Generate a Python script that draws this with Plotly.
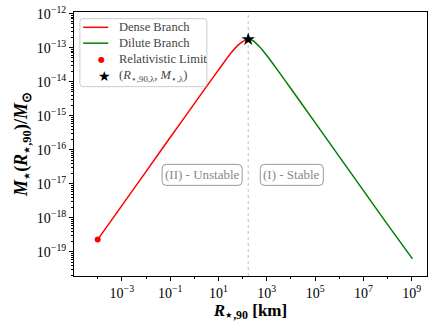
import plotly.graph_objects as go

# dense branch (red)
dense_r = [1e-4, 1e-3, 1e-2, 1e-1, 1.0, 10.0, 31.6, 63.0, 100.0, 126.0, 150.0, 170.0]
dense_m = [2.29e-19, 2.29e-18, 2.29e-17, 2.29e-16, 2.27e-15, 2.24e-14, 6.8e-14,
           1.17e-13, 1.51e-13, 1.64e-13, 1.72e-13, 1.75e-13]

# dilute branch (green)
dilute_r = [170.0, 250.0, 500.0, 1e3, 3.16e3, 1e4, 1e5, 1e6, 1e7, 1e8, 1.07e9]
dilute_m = [1.75e-13, 1.66e-13, 1.07e-13, 5.9e-14, 1.95e-14, 6.2e-15, 6.3e-16,
            6.3e-17, 6.3e-18, 6.3e-19, 6.2e-20]

# relativistic limit and turning point
rel_r = [1e-4]
rel_m = [2.29e-19]
peak_r = [170.0]
peak_m = [1.75e-13]

xtick_exp = [-3, -1, 1, 3, 5, 7, 9]
ytick_exp = [-19, -18, -17, -16, -15, -14, -13, -12]

legend_labels = ['Dense Branch', 'Dilute Branch', 'Relativistic Limit',
                 '(<i>R</i><sub>⋆,90,λ</sub>, <i>M</i><sub>⋆,λ</sub>)']

font = "Liberation Serif"


def rounded_box(w, h, r):
    a, b = w / 2, h / 2
    return (f"M {-a + r},{-b} L {a - r},{-b} Q {a},{-b} {a},{-b + r} "
            f"L {a},{b - r} Q {a},{b} {a - r},{b} L {-a + r},{b} Q {-a},{b} {-a},{b - r} "
            f"L {-a},{-b + r} Q {-a},{-b} {-a + r},{-b} Z")


fig = go.Figure()
fig.add_trace(go.Scatter(x=dense_r, y=dense_m, mode='lines', name=legend_labels[0],
                         line=dict(color='red', width=1.5, shape='spline', smoothing=0.4)))
fig.add_trace(go.Scatter(x=dilute_r, y=dilute_m, mode='lines', name=legend_labels[1],
                         line=dict(color='green', width=1.5, shape='spline', smoothing=0.4)))
fig.add_trace(go.Scatter(x=rel_r, y=rel_m, mode='markers', name=legend_labels[2],
                         marker=dict(color='red', size=6)))
fig.add_trace(go.Scatter(x=peak_r, y=peak_m, mode='markers', name=legend_labels[3],
                         marker=dict(color='black', size=10, symbol='star')))

fig.add_vline(x=peak_r[0], line=dict(color='#c0c0c0', width=1, dash='dot'), layer='below')

# region labels in rounded boxes
for txt, xp, w in [('(II) - Unstable', 0.363, 80), ('(I) - Stable', 0.617, 63)]:
    fig.add_shape(type='path', xref='paper', yref='paper', xsizemode='pixel',
                  ysizemode='pixel', xanchor=xp, yanchor=0.383, path=rounded_box(w, 21, 4),
                  line=dict(color='#999999', width=1), fillcolor='white')
    fig.add_annotation(text=txt, x=xp, y=0.383, xref='paper', yref='paper',
                       yanchor='middle', showarrow=False,
                       font=dict(family=font, size=13, color='#888888'))

# hand-made legend, matplotlib-like compact spacing
fig.add_shape(type='path', xref='paper', yref='paper', xsizemode='pixel',
              ysizemode='pixel', xanchor=0.1965, yanchor=0.846, path=rounded_box(127, 68, 3),
              line=dict(color='#cccccc', width=1), fillcolor='rgba(255,255,255,0.8)')
entry_y = [0.942, 0.882, 0.821, 0.758]
for yy, col in zip(entry_y[:2], ['red', 'green']):
    fig.add_shape(type='line', xref='paper', yref='paper', x0=0.026, x1=0.097,
                  y0=yy, y1=yy, line=dict(color=col, width=1.5))
fig.add_annotation(text='●', x=0.062, y=entry_y[2], xref='paper', yref='paper',
                   yanchor='middle', showarrow=False,
                   font=dict(family='DejaVu Sans', size=8, color='red'))
fig.add_annotation(text='★', x=0.062, y=entry_y[3], xref='paper', yref='paper',
                   yanchor='middle', showarrow=False,
                   font=dict(family='DejaVu Sans', size=14, color='black'))
for yy, lab in zip(entry_y, legend_labels):
    fig.add_annotation(text=lab, x=0.122, y=yy, xref='paper', yref='paper',
                       xanchor='left', yanchor='middle', showarrow=False,
                       font=dict(family=font, size=12.5, color='#444444'))

axis_common = dict(type='log', showline=True, linecolor='black', linewidth=1, mirror=True,
                   showgrid=False, zeroline=False, ticks='outside', ticklen=4, automargin=False,
                   ticklabeloverflow='allow',
                   tickcolor='black', tickfont=dict(family=font, size=14, color='black'))

fig.update_xaxes(**axis_common, range=[-4.98, 9.63],
                 tickvals=[10.0 ** e for e in xtick_exp],
                 ticktext=['10<sup>%s</sup>' % str(e).replace('-', '−') for e in xtick_exp],
                 minor=dict(tickvals=[10.0 ** e for e in range(-4, 10)], ticks='outside',
                            ticklen=2, tickcolor='black'),
                 title=dict(text='<b><i>R</i><sub>⋆,90</sub> [km]</b>',
                            font=dict(family=font, size=17, color='black'), standoff=2))
fig.update_yaxes(**axis_common, range=[-19.71, -11.95],
                 tickvals=[10.0 ** e for e in ytick_exp],
                 ticktext=['10<sup>%s</sup>' % str(e).replace('-', '−') for e in ytick_exp],
                 minor=dict(dtick='D1', ticks='outside', ticklen=2, tickcolor='black'),
                 title=dict(text='<b><i>M</i><sub>⋆</sub>(<i>R</i><sub>⋆,90</sub>)/<i>M</i><sub>⊙</sub></b>',
                            font=dict(family=font, size=18, color='black'), standoff=4))

fig.update_layout(width=440, height=330, margin=dict(l=74, r=13, t=12, b=54),
                  plot_bgcolor='white', paper_bgcolor='white', showlegend=False)

# drop the default 8px page margin so the figure sits at the window corner
fig.write_html("out.html", config={'displayModeBar': False},
               post_script="document.body.style.margin='0px';")
